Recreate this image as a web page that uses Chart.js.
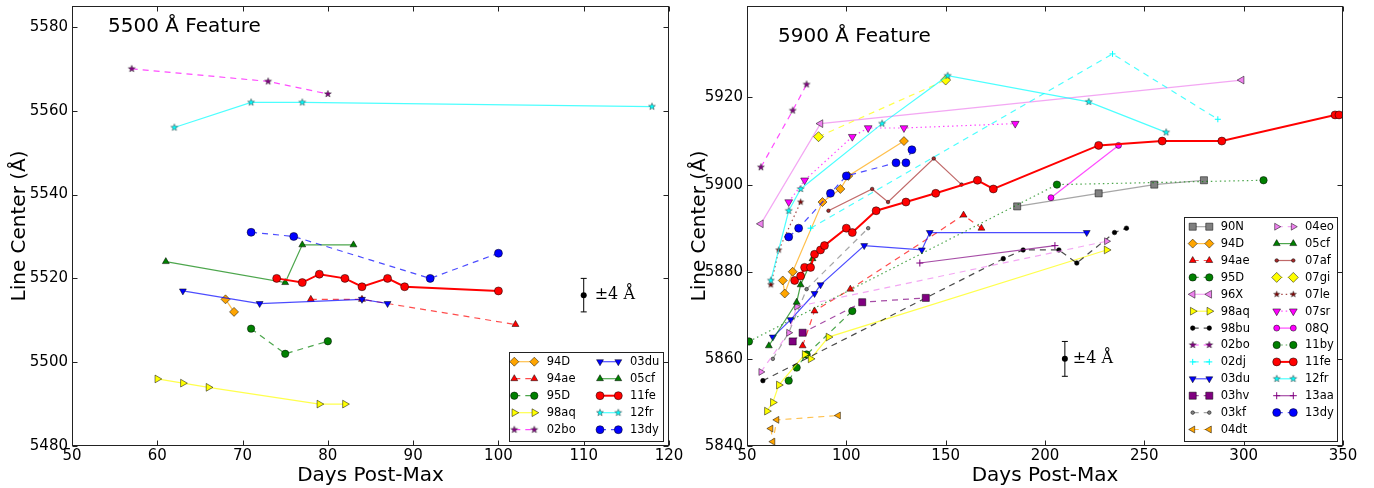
<!DOCTYPE html>
<html>
<head>
<meta charset="utf-8">
<script src="https://cdn.jsdelivr.net/npm/chart.js@4.4.1/dist/chart.umd.min.js"></script>
<style>
    body { margin: 0; background: #fff; }
    #wrap { position: relative; width: 1374px; height: 488px; }
    canvas { position: absolute; top: 0; }
</style>
</head>
<body>
<div id="wrap">
    <canvas id="chart5500" width="687" height="488" style="left:0"></canvas>
    <canvas id="chart5900" width="687" height="488" style="left:687px"></canvas>
</div>
<script>
//################### Data: [days post-max, line center (A)] ###################
// 5500 A feature
const f5500_94D  = [[68, 5515], [69, 5512]];
const f5500_94ae = [[78, 5515], [84, 5515], [102, 5509]];
const f5500_95D  = [[71, 5508], [75, 5502], [80, 5505]];
const f5500_98aq = [[60, 5496], [63, 5495], [66, 5494], [79, 5490], [82, 5490]];
const f5500_02bo = [[57, 5570], [73, 5567], [80, 5564]];
const f5500_03du = [[63, 5517], [72, 5514], [84, 5515], [87, 5514]];
const f5500_05cf = [[61, 5524], [75, 5519], [77, 5528], [83, 5528]];
const f5500_11fe = [[74, 5520], [77, 5519], [79, 5521], [82, 5520], [84, 5518], [87, 5520], [89, 5518], [100, 5517]];
const f5500_12fr = [[62, 5556], [71, 5562], [77, 5562], [118, 5561]];
const f5500_13dy = [[71, 5531], [76, 5530], [92, 5520], [100, 5526]];

// 5900 A feature
const f5900_90N  = [[186, 5895], [227, 5898], [255, 5900], [280, 5901]];
const f5900_94D  = [[68, 5878], [69, 5875], [73, 5880], [88, 5896], [97, 5899], [101, 5902], [129, 5910]];
const f5900_94ae = [[78, 5863], [84, 5871], [102, 5876], [159, 5893], [168, 5890]];
const f5900_95D  = [[71, 5855], [75, 5858], [80, 5861], [103, 5871]];
const f5900_96X  = [[57, 5891], [87, 5914], [299, 5924]];
const f5900_98aq = [[60, 5848], [63, 5850], [66, 5854], [79, 5861], [82, 5860], [91, 5865], [231, 5885]];
const f5900_98bu = [[58, 5855], [179, 5883], [189, 5885], [207, 5885], [216, 5882], [235, 5889], [241, 5890]];
const f5900_02bo = [[57, 5904], [73, 5917], [80, 5923]];
const f5900_02dj = [[82, 5890], [234, 5930], [287, 5915]];
const f5900_03du = [[63, 5865], [72, 5869], [84, 5875], [87, 5877], [109, 5886], [138, 5885], [142, 5889], [221, 5889]];
const f5900_03hv = [[73, 5864], [78, 5866], [108, 5873], [140, 5874]];
const f5900_03kf = [[63, 5860], [71, 5866], [80, 5876], [111, 5890]];
const f5900_04dt = [[62, 5844], [63, 5841], [65, 5846], [96, 5847]];
const f5900_04eo = [[57, 5857], [71, 5866], [75, 5872], [231, 5887]];
const f5900_05cf = [[61, 5863], [75, 5873], [77, 5877], [83, 5883]];
const f5900_07af = [[91, 5894], [113, 5899], [121, 5896], [144, 5906], [158, 5900]];
const f5900_07gi = [[86, 5911], [150, 5924]];
const f5900_07le = [[62, 5877], [66, 5885], [77, 5896]];
const f5900_07sr = [[71, 5896], [79, 5901], [103, 5911], [111, 5913], [129, 5913], [185, 5914]];
const f5900_08Q  = [[203, 5897], [237, 5909]];
const f5900_11by = [[51, 5864], [206, 5900], [310, 5901]];
const f5900_11fe = [[74, 5878], [77, 5879], [79, 5881], [82, 5881], [84, 5884], [87, 5885], [89, 5886], [100, 5890], [103, 5889],
                    [115, 5894], [130, 5896], [145, 5898], [166, 5901], [174, 5899], [227, 5909], [259, 5910], [289, 5910], [346, 5916], [348, 5916]];
const f5900_12fr = [[62, 5878], [71, 5894], [77, 5899], [118, 5914], [151, 5925], [222, 5919], [261, 5912]];
const f5900_13aa = [[137, 5882], [205, 5886]];
const f5900_13dy = [[71, 5888], [76, 5890], [92, 5898], [100, 5902], [125, 5905], [130, 5905], [133, 5908]];

// error bars: [x, y, half-size]
const err5500 = [110, 5516, 4];
const err5900 = [210, 5860, 4];

// ticks
const xTicks5500 = [50, 60, 70, 80, 90, 100, 110, 120];
const yTicks5500 = [5480, 5500, 5520, 5540, 5560, 5580];
const xTicks5900 = [50, 100, 150, 200, 250, 300, 350];
const yTicks5900 = [5840, 5860, 5880, 5900, 5920];

// legend columns
const legend5500 = [['94D', '94ae', '95D', '98aq', '02bo'], ['03du', '05cf', '11fe', '12fr', '13dy']];
const legend5900 = [['90N', '94D', '94ae', '95D', '96X', '98aq', '98bu', '02bo', '02dj', '03du', '03hv', '03kf', '04dt'],
                    ['04eo', '05cf', '07af', '07gi', '07le', '07sr', '08Q', '11by', '11fe', '12fr', '13aa', '13dy']];

const series5500 = {'94D': f5500_94D, '94ae': f5500_94ae, '95D': f5500_95D, '98aq': f5500_98aq, '02bo': f5500_02bo,
                    '03du': f5500_03du, '05cf': f5500_05cf, '11fe': f5500_11fe, '12fr': f5500_12fr, '13dy': f5500_13dy};
const series5900 = {'90N': f5900_90N, '94D': f5900_94D, '94ae': f5900_94ae, '95D': f5900_95D, '96X': f5900_96X,
                    '98aq': f5900_98aq, '98bu': f5900_98bu, '02bo': f5900_02bo, '02dj': f5900_02dj, '03du': f5900_03du,
                    '03hv': f5900_03hv, '03kf': f5900_03kf, '04dt': f5900_04dt, '04eo': f5900_04eo, '05cf': f5900_05cf,
                    '07af': f5900_07af, '07gi': f5900_07gi, '07le': f5900_07le, '07sr': f5900_07sr, '08Q': f5900_08Q,
                    '11by': f5900_11by, '11fe': f5900_11fe, '12fr': f5900_12fr, '13aa': f5900_13aa, '13dy': f5900_13dy};

//################### Styles ###################
const FONT = '"DejaVu Sans", "Liberation Sans", sans-serif';
const C = {gray: '#808080', orange: '#FFA500', red: '#FF0000', green: '#008000', violet: '#EE82EE', yellow: '#FFFF00',
           black: '#000000', magenta: '#FF00FF', purple: '#800080', cyan: '#00FFFF', blue: '#0000FF',
           brown: '#A52A2A', maroon: '#800000'};

const styles = {
    '90N':  {c: C.gray,    ls: 'solid',  m: 'square',  r: 5},
    '94D':  {c: C.orange,  ls: 'solid',  m: 'diamond', r: 4.5},
    '94ae': {c: C.red,     ls: 'dashed', m: 'up',      r: 4},
    '95D':  {c: C.green,   ls: 'dashed', m: 'circle',  r: 3.7},
    '96X':  {c: C.violet,  ls: 'solid',  m: 'left',    r: 4.5},
    '98aq': {c: C.yellow,  ls: 'solid',  m: 'right',   r: 4.5},
    '98bu': {c: C.black,   ls: 'dashed', m: 'circle',  r: 2.3},
    '02bo': {c: C.magenta, face: C.purple, ls: 'dashed', m: 'star', r: 3.6},
    '02dj': {c: C.cyan,    ls: 'dashed', m: 'plus',    r: 3},
    '03du': {c: C.blue,    ls: 'solid',  m: 'down',    r: 4},
    '03hv': {c: C.purple,  ls: 'dashed', m: 'square',  r: 5},
    '03kf': {c: C.gray,    ls: 'dashed', m: 'circle',  r: 1.8},
    '04dt': {c: C.orange,  ls: 'dashed', m: 'left',    r: 4},
    '04eo': {c: C.violet,  ls: 'dashed', m: 'right',   r: 4},
    '05cf': {c: C.green,   ls: 'solid',  m: 'up',      r: 4},
    '07af': {c: C.brown,   ls: 'solid',  m: 'circle',  r: 1.8},
    '07gi': {c: C.yellow,  ls: 'dashed', m: 'diamond', r: 5},
    '07le': {c: C.maroon,  ls: 'dotted', m: 'star',    r: 3.2},
    '07sr': {c: C.magenta, ls: 'dotted', m: 'down',    r: 4.5},
    '08Q':  {c: C.magenta, ls: 'solid',  m: 'circle',  r: 3},
    '11by': {c: C.green,   ls: 'dotted', m: 'circle',  r: 3.7},
    '11fe': {c: C.red,     ls: 'solid',  m: 'circle',  r: 4, w: 2, a: 1},
    '12fr': {c: C.cyan,    ls: 'solid',  m: 'star',    r: 3.6},
    '13aa': {c: C.purple,  ls: 'solid',  m: 'plus',    r: 3.5},
    '13dy': {c: C.blue,    ls: 'dashed', m: 'circle',  r: 4},
};

const DASH = {solid: [], dashed: [6, 5], dotted: [1.5, 3]};

function rgba(hex, a) {
    const n = parseInt(hex.slice(1), 16);
    return `rgba(${(n >> 16) & 255}, ${(n >> 8) & 255}, ${n & 255}, ${a})`;
}

// filled five-point star like matplotlib '*'
const starCache = {};
function makeStar(r, fill) {
    const key = r + fill;
    if (starCache[key]) return starCache[key];
    const c = document.createElement('canvas');
    const s = Math.ceil(r * 2 + 2);
    c.width = c.height = s;
    const g = c.getContext('2d');
    g.beginPath();
    for (let i = 0; i < 10; i++) {
        const ang = -Math.PI / 2 + i * Math.PI / 5;
        const rr = i % 2 ? r * 0.42 : r;
        g.lineTo(s / 2 + rr * Math.cos(ang), s / 2 + rr * Math.sin(ang));
    }
    g.closePath();
    g.fillStyle = fill;
    g.fill();
    g.lineWidth = 0.5;
    g.strokeStyle = '#333';
    g.stroke();
    starCache[key] = c;
    return c;
}

function pointOpts(st) {
    const face = st.face || st.c;
    const map = {
        circle: ['circle', 0], square: ['rect', 0], diamond: ['rectRot', 0],
        up: ['triangle', 0], down: ['triangle', 180], left: ['triangle', -90], right: ['triangle', 90],
        plus: ['cross', 0]
    };
    if (st.m === 'star') {
        return {style: makeStar(st.r, face), rot: 0, face: face, edge: '#000', bw: 0.5};
    }
    const [style, rot] = map[st.m];
    if (st.m === 'plus') return {style, rot, face: face, edge: face, bw: 1};
    return {style, rot, face: face, edge: '#000', bw: 0.5};
}

function buildDatasets(table) {
    const names = Object.keys(table);
    return names.map((name, i) => {
        const st = styles[name];
        const po = pointOpts(st);
        return {
            label: name,
            data: table[name].map(p => ({x: p[0], y: p[1]})),
            showLine: true,
            borderColor: rgba(st.c, st.a || 0.7),
            borderWidth: st.w || 1.2,
            borderDash: DASH[st.ls],
            tension: 0,
            pointStyle: po.style,
            pointRotation: po.rot,
            pointRadius: st.r,
            pointBackgroundColor: po.face,
            pointBorderColor: po.edge,
            pointBorderWidth: po.bw,
            order: names.length - i,
        };
    });
}

//################### Decorations: frame, inward ticks, title, error bar, legend ###################
function drawMarker(ctx, st, x, y) {
    const po = pointOpts(st);
    ctx.save();
    ctx.setLineDash([]);
    ctx.fillStyle = po.face;
    ctx.strokeStyle = po.edge;
    ctx.lineWidth = po.bw;
    Chart.helpers.drawPoint(ctx, {pointStyle: po.style, radius: st.r, rotation: po.rot, borderWidth: po.bw}, x, y);
    ctx.restore();
}

const decor = {
    id: 'decor',
    afterDatasetsDraw(chart, args, o) {
        const {ctx, chartArea: a, scales: {x, y}} = chart;
        ctx.save();

        // error bar
        const [ex, ey, es] = o.err;
        const px = x.getPixelForValue(ex), py = y.getPixelForValue(ey);
        const pt = y.getPixelForValue(ey + es), pb = y.getPixelForValue(ey - es);
        ctx.strokeStyle = '#000';
        ctx.lineWidth = 1;
        ctx.beginPath();
        ctx.moveTo(px, pt); ctx.lineTo(px, pb);
        ctx.moveTo(px - 3, pt); ctx.lineTo(px + 3, pt);
        ctx.moveTo(px - 3, pb); ctx.lineTo(px + 3, pb);
        ctx.stroke();
        ctx.fillStyle = '#000';
        ctx.beginPath(); ctx.arc(px, py, 3, 0, Math.PI * 2); ctx.fill();
        ctx.font = '16px "DejaVu Serif", "Liberation Serif", serif';
        ctx.textBaseline = 'middle';
        ctx.textAlign = 'left';
        ctx.fillText('\u00B1' + es + ' \u00C5', px + o.errDx, py);

        // frame
        ctx.strokeStyle = '#222';
        ctx.lineWidth = 1;
        const L = Math.round(a.left) + 0.5, R = Math.round(a.right) - 0.5;
        const T = Math.round(a.top) + 0.5, B = Math.round(a.bottom) - 0.5;
        ctx.strokeRect(L, T, R - L, B - T);
        ctx.beginPath();
        o.xTicks.forEach(v => {
            const p = Math.round(x.getPixelForValue(v)) + 0.5;
            ctx.moveTo(p, B); ctx.lineTo(p, B - 5);
            ctx.moveTo(p, T); ctx.lineTo(p, T + 5);
        });
        o.yTicks.forEach(v => {
            const p = Math.round(y.getPixelForValue(v)) + 0.5;
            ctx.moveTo(L, p); ctx.lineTo(L + 5, p);
            ctx.moveTo(R, p); ctx.lineTo(R - 5, p);
        });
        ctx.stroke();

        // title
        ctx.fillStyle = '#000';
        ctx.font = '20px ' + FONT;
        ctx.textBaseline = 'alphabetic';
        ctx.fillText(o.title, a.left + o.titleDx, a.top + o.titleDy);

        // legend
        const lg = o.legend;
        ctx.fillStyle = '#fff';
        ctx.fillRect(lg.x, lg.y, lg.w, lg.h);
        ctx.strokeStyle = '#222';
        ctx.strokeRect(lg.x + 0.5, lg.y + 0.5, lg.w, lg.h);
        ctx.font = '11.5px ' + FONT;
        ctx.textBaseline = 'middle';
        o.legendCols.forEach((col, ci) => {
            const cx = lg.cols[ci];
            col.forEach((name, ri) => {
                const st = styles[name];
                const yy = lg.row0 + ri * lg.dy;
                ctx.save();
                ctx.strokeStyle = rgba(st.c, st.a || 0.7);
                ctx.lineWidth = st.w || 1.2;
                ctx.setLineDash(DASH[st.ls]);
                ctx.beginPath(); ctx.moveTo(cx.s, yy); ctx.lineTo(cx.e, yy); ctx.stroke();
                ctx.restore();
                drawMarker(ctx, st, cx.s, yy);
                drawMarker(ctx, st, cx.e, yy);
                ctx.fillStyle = '#000';
                ctx.fillText(name, cx.t, yy + 0.5);
            });
        });
        ctx.restore();
    }
};

function makeChart(id, table, xr, yr, xTicks, yTicks, yWidth, padRight, yTitlePad, deco) {
    const ctx = document.getElementById(id).getContext('2d');
    return new Chart(ctx, {
        type: 'scatter',
        data: {datasets: buildDatasets(table)},
        plugins: [decor],
        options: {
            responsive: false,
            animation: false,
            devicePixelRatio: 1,
            events: [],
            layout: {padding: {left: 0, right: padRight, top: 6, bottom: 0}},
            plugins: {legend: {display: false}, tooltip: {enabled: false}, decor: deco},
            scales: {
                x: {
                    type: 'linear', min: xr[0], max: xr[1],
                    afterBuildTicks: s => { s.ticks = xTicks.map(v => ({value: v})); },
                    afterFit: s => { s.height = 42; s.paddingLeft = 0; s.paddingRight = 0; },
                    grid: {display: false, drawTicks: false},
                    border: {display: false},
                    ticks: {color: '#000', font: {family: FONT, size: 15}, padding: 1, maxRotation: 0,
                            callback: v => String(v)},
                    title: {display: true, text: 'Days Post-Max', color: '#000', font: {family: FONT, size: 20}, padding: {top: 0, bottom: 0}}
                },
                y: {
                    type: 'linear', min: yr[0], max: yr[1],
                    afterBuildTicks: s => { s.ticks = yTicks.map(v => ({value: v})); },
                    afterFit: s => { s.width = yWidth; s.paddingTop = 0; s.paddingBottom = 0; },
                    grid: {display: false, drawTicks: false},
                    border: {display: false},
                    ticks: {color: '#000', font: {family: FONT, size: 15}, padding: 4, callback: v => String(v)},
                    title: {display: true, text: 'Line Center (\u00C5)', color: '#000', font: {family: FONT, size: 20}, padding: {top: yTitlePad, bottom: 0}}
                }
            }
        }
    });
}

makeChart('chart5500', series5500, [50, 120], [5480, 5585], xTicks5500, yTicks5500, 72, 18, 8, {
    err: err5500, errDx: 11, xTicks: xTicks5500, yTicks: yTicks5500,
    title: '5500 \u00C5 Feature', titleDx: 36, titleDy: 26,
    legendCols: legend5500,
    legend: {x: 509, y: 352, w: 154, h: 89, row0: 361.7, dy: 17,
             cols: [{s: 514.3, e: 534.3, t: 546.7}, {s: 600, e: 618.3, t: 630}]}
});

makeChart('chart5900', series5900, [50, 350], [5840, 5941], xTicks5900, yTicks5900, 60, 31, 1, {
    err: err5900, errDx: 8, xTicks: xTicks5900, yTicks: yTicks5900,
    title: '5900 \u00C5 Feature', titleDx: 31, titleDy: 36,
    legendCols: legend5900,
    legend: {x: 497, y: 217, w: 153, h: 224, row0: 226.7, dy: 16.9,
             cols: [{s: 505.7, e: 522.3, t: 533.7}, {s: 589.7, e: 606.3, t: 618}]}
});
</script>
</body>
</html>
